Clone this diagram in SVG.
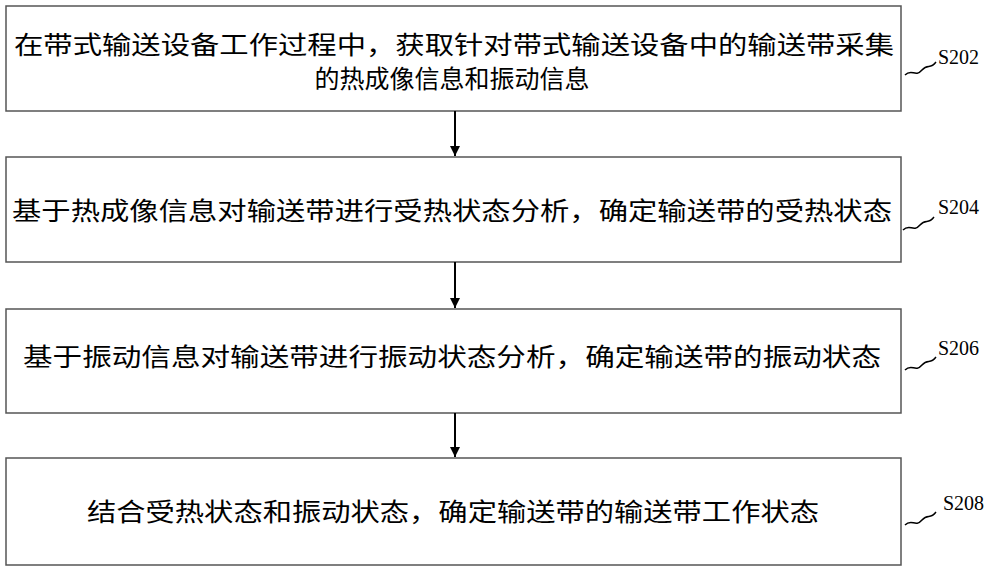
<svg xmlns="http://www.w3.org/2000/svg" width="1000" height="570" viewBox="0 0 1000 570">
<defs>
<style>
.box{fill:#fff;stroke:#555;stroke-width:1.5}
.t{font-family:"Noto Sans CJK SC","Liberation Sans",sans-serif;font-size:25px;fill:#000;text-anchor:middle}
.lbl{font-family:"Liberation Serif",serif;font-size:20px;fill:#000}
.sq{fill:none;stroke:#000;stroke-width:1.5}
.c{stroke:#000;stroke-width:2;marker-end:url(#ah)}
</style>
<marker id="ah" viewBox="0 0 10 10" refX="10" refY="5" markerWidth="10" markerHeight="16" orient="auto" markerUnits="userSpaceOnUse"><path d="M0,0L10,5L0,10z" fill="#000"/></marker>
</defs>
<rect width="1000" height="570" fill="#fff"/>
<g id="n1"><rect class="box" x="6" y="6" width="895" height="105"/>
<text class="t" x="454" y="54" textLength="880" lengthAdjust="spacingAndGlyphs">在带式输送设备工作过程中，获取针对带式输送设备中的输送带采集</text>
<text class="t" x="452" y="88">的热成像信息和振动信息</text>
<path class="sq" d="M905,75 C912,68 915,78 922,70 C928,63 930,70 936,62"/><text class="lbl" x="938" y="64">S202</text></g>
<g id="n2"><rect class="box" x="6" y="157" width="895" height="105"/>
<text class="t" x="452" y="220" textLength="880" lengthAdjust="spacingAndGlyphs">基于热成像信息对输送带进行受热状态分析，确定输送带的受热状态</text>
<path class="sq" d="M903,230 C910,223 913,233 920,225 C926,218 928,225 934,217"/><text class="lbl" x="938" y="214">S204</text></g>
<g id="n3"><rect class="box" x="6" y="309" width="895" height="104"/>
<text class="t" x="452" y="366" textLength="858" lengthAdjust="spacingAndGlyphs">基于振动信息对输送带进行振动状态分析，确定输送带的振动状态</text>
<path class="sq" d="M905,370 C912,363 915,373 922,365 C928,358 930,365 936,357"/><text class="lbl" x="938" y="355">S206</text></g>
<g id="n4"><rect class="box" x="6" y="458" width="895" height="107"/>
<text class="t" x="453" y="521" textLength="732" lengthAdjust="spacingAndGlyphs">结合受热状态和振动状态，确定输送带的输送带工作状态</text>
<path class="sq" d="M905,525 C912,518 915,528 922,520 C928,513 930,520 936,512"/><text class="lbl" x="943" y="510">S208</text></g>
<g id="connectors">
<line class="c" x1="455" y1="111" x2="455" y2="156"/>
<line class="c" x1="455" y1="262" x2="455" y2="308"/>
<line class="c" x1="455" y1="413" x2="455" y2="457"/>
</g>
</svg>
